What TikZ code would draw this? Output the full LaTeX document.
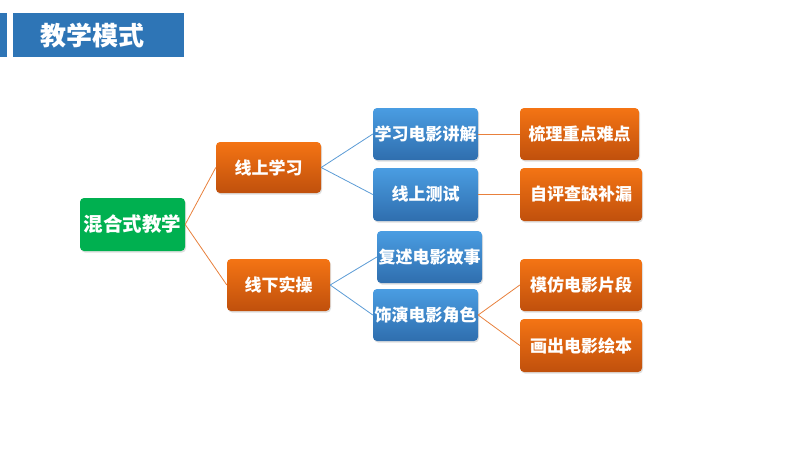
\documentclass[tikz,border=0pt]{standalone}
\usepackage{fontspec}
\setmainfont{Noto Sans CJK SC}
\usetikzlibrary{shadows}
\definecolor{hdr}{HTML}{2E75B6}
\definecolor{grn}{HTML}{00B050}
\definecolor{otop}{HTML}{F47414}
\definecolor{obot}{HTML}{C0500C}
\definecolor{btop}{HTML}{4A9DE2}
\definecolor{bbot}{HTML}{2F6EAE}
\definecolor{oline}{HTML}{E8803C}
\definecolor{bline}{HTML}{5B9BD5}
\tikzset{
  base/.style={rounded corners=4pt, text=white, font=\bfseries\fontsize{17}{19}\selectfont, inner sep=0pt,
    drop shadow={opacity=0.25, shadow xshift=1pt, shadow yshift=-1.5pt}},
  obox/.style={base, top color=otop, bottom color=obot},
  bbox/.style={base, top color=btop, bottom color=bbot},
  gbox/.style={base, fill=grn, font=\bfseries\fontsize{19.5}{21}\selectfont},
  oln/.style={draw=oline, line width=0.8pt},
  bln/.style={draw=bline, line width=0.8pt}
}
\begin{document}
\begin{tikzpicture}[x=1pt,y=-1pt]
\useasboundingbox (0,0) rectangle (800,450);
\fill[hdr] (0,13) rectangle (7,57);
\fill[hdr] (13,13) rectangle (184,57);
\node[text=white, font=\bfseries\fontsize{26}{28}\selectfont, inner sep=0pt] (title) at (92,36) {教学模式};

\node[gbox, minimum width=105pt, minimum height=53pt] (root) at (132.5,224.5) {混合式教学};
\node[obox, minimum width=105pt, minimum height=51pt] (on) at (268.5,167.5) {线上学习};
\node[obox, minimum width=103pt, minimum height=52pt] (off) at (278.5,285) {线下实操};
\node[bbox, minimum width=105pt, minimum height=52pt] (b1) at (425.5,134) {学习电影讲解};
\node[bbox, minimum width=105pt, minimum height=53pt] (b2) at (425.5,194.5) {线上测试};
\node[bbox, minimum width=105pt, minimum height=52pt] (b3) at (429.5,257) {复述电影故事};
\node[bbox, minimum width=105pt, minimum height=52pt] (b4) at (425.5,315) {饰演电影角色};
\node[obox, minimum width=119pt, minimum height=52pt] (o1) at (579.5,134) {梳理重点难点};
\node[obox, minimum width=122pt, minimum height=53pt] (o2) at (581,194.5) {自评查缺补漏};
\node[obox, minimum width=122pt, minimum height=52pt] (o3) at (581,285) {模仿电影片段};
\node[obox, minimum width=122pt, minimum height=53pt] (o4) at (581,345.5) {画出电影绘本};

\draw[oln] (root.east) -- (on.west);
\draw[oln] (root.east) -- (off.west);
\draw[bln] (on.east) -- (b1.west);
\draw[bln] (on.east) -- (b2.west);
\draw[bln] (off.east) -- (b3.west);
\draw[bln] (off.east) -- (b4.west);
\draw[oln] (b1.east) -- (o1.west);
\draw[oln] (b2.east) -- (o2.west);
\draw[oln] (b4.east) -- (o3.west);
\draw[oln] (b4.east) -- (o4.west);
\end{tikzpicture}
\end{document}
